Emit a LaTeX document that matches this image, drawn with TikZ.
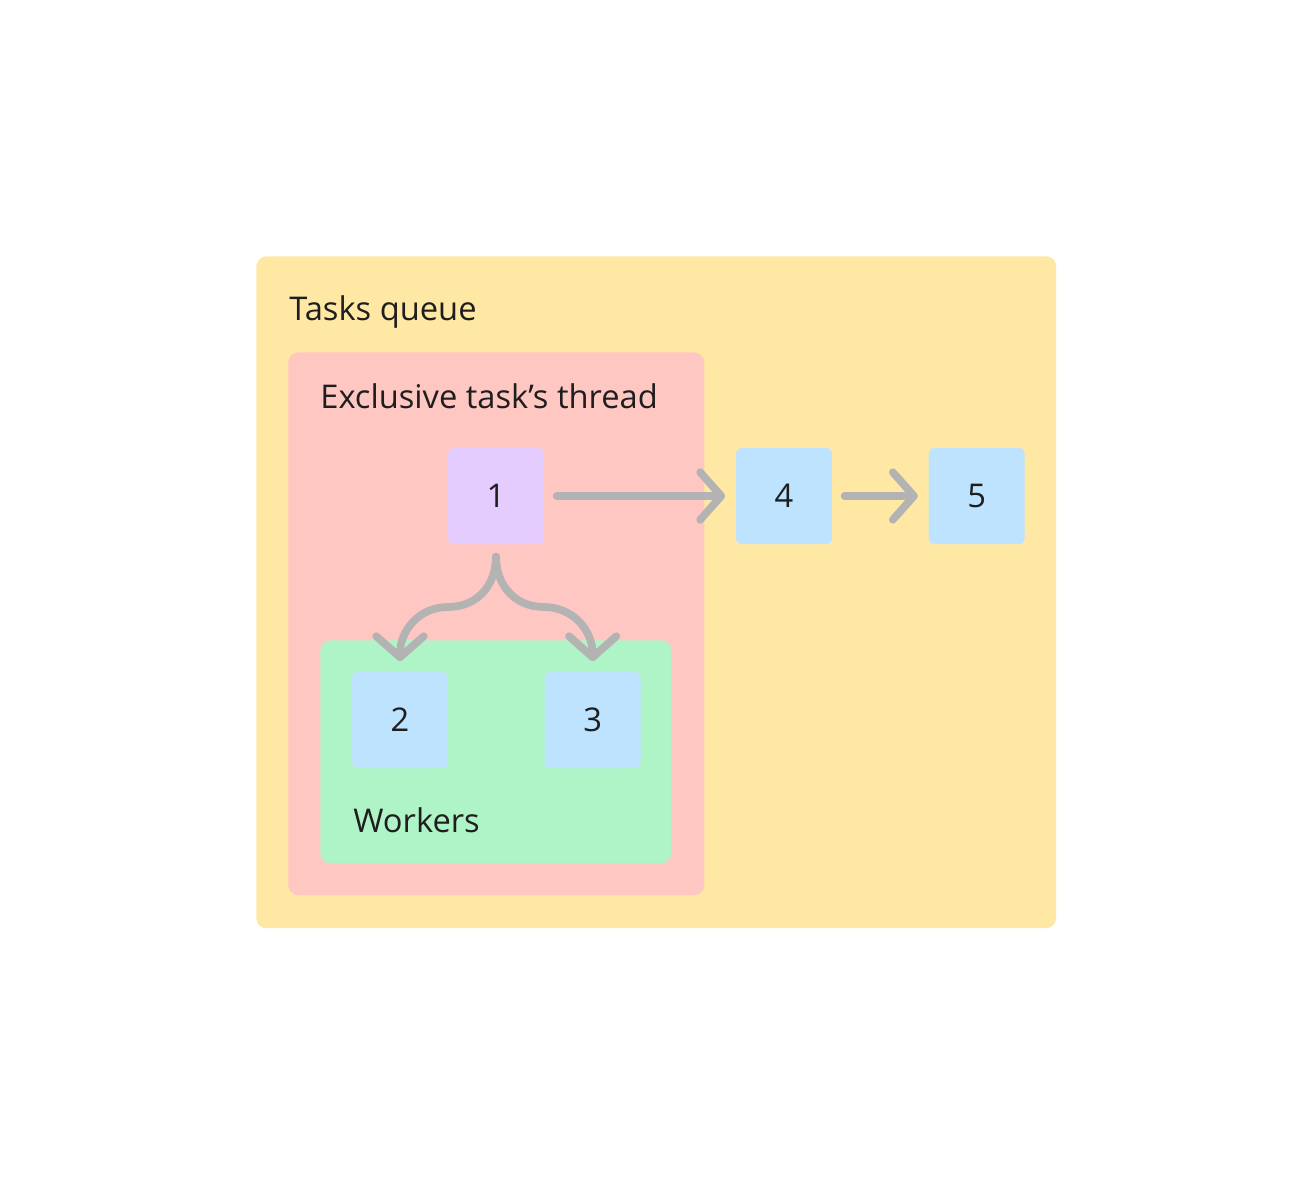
\documentclass[tikz,border=0pt]{standalone}
\usepackage{fontspec}
\setmainfont{Open Sans}
\usetikzlibrary{arrows.meta,positioning}
\definecolor{queueyellow}{RGB}{255,232,163}
\definecolor{threadred}{RGB}{255,199,194}
\definecolor{workergreen}{RGB}{175,244,198}
\definecolor{taskviolet}{RGB}{228,204,255}
\definecolor{taskblue}{RGB}{189,227,255}
\definecolor{flowgrey}{RGB}{179,179,179}
\definecolor{inkdark}{RGB}{30,30,30}

\begin{document}
\begin{tikzpicture}[x=0.02cm, y=-0.02cm,
                      area/.style = {
                        rectangle, anchor=north west, inner sep=0pt,
                        rounded corners=2mm
                      },
                      title/.style = {
                        anchor=base west, inner sep=0pt, text=inkdark,
                        font=\fontsize{18.6}{22}\selectfont
                      },
                      task/.style = {
                        rectangle, minimum size=1.92cm, inner sep=0pt,
                        rounded corners=1mm, text=inkdark,
                        font=\fontsize{18.6}{22}\selectfont
                      },
                      flow/.style = {
                        draw=flowgrey, line width=4.4pt, line cap=round,
                        -{Straight Barb[length=12pt, width=27pt, round]},
                        shorten <=7pt, shorten >=6pt
                      }]
    \useasboundingbox (0,0) rectangle (1312,1184);

    % nested areas
    \node (queue) [area, fill=queueyellow, minimum width=16cm, minimum height=13.44cm] at (256,256) {};
    \node (thread) [area, fill=threadred, minimum width=8.32cm, minimum height=10.86cm] at (288,352) {};
    \node (workers) [area, fill=workergreen, minimum width=7.02cm, minimum height=4.46cm] at (320,640) {};

    \node (queuelabel) [title] at (289,320) {Tasks queue};
    \node (threadlabel) [title] at (320,408) {Exclusive task’s thread};
    \node (workerslabel) [title] at (353,832) {Workers};

    % tasks
    \node (one) [task, fill=taskviolet] at (496,496) {1};
    \node (four) [task, fill=taskblue] at (784,496) {4};
    \node (five) [task, fill=taskblue, right=1.92cm of four] {5};
    \node (two) [task, fill=taskblue] at (400,720) {2};
    \node (three) [task, fill=taskblue, right=1.92cm of two] {3};

    \coordinate (forkL) at (448,607);
    \coordinate (forkR) at (544,607);

    \path[flow] (one) edge (four);
    \path[flow] (four) edge (five);
    \draw[flow] (one.south) .. controls +(0,40) and +(30,0) .. (forkL)
                .. controls +(-30,0) and +(0,-40) .. (two.north);
    \draw[flow] (one.south) .. controls +(0,40) and +(-30,0) .. (forkR)
                .. controls +(30,0) and +(0,-40) .. (three.north);
  \end{tikzpicture}
\end{document}
